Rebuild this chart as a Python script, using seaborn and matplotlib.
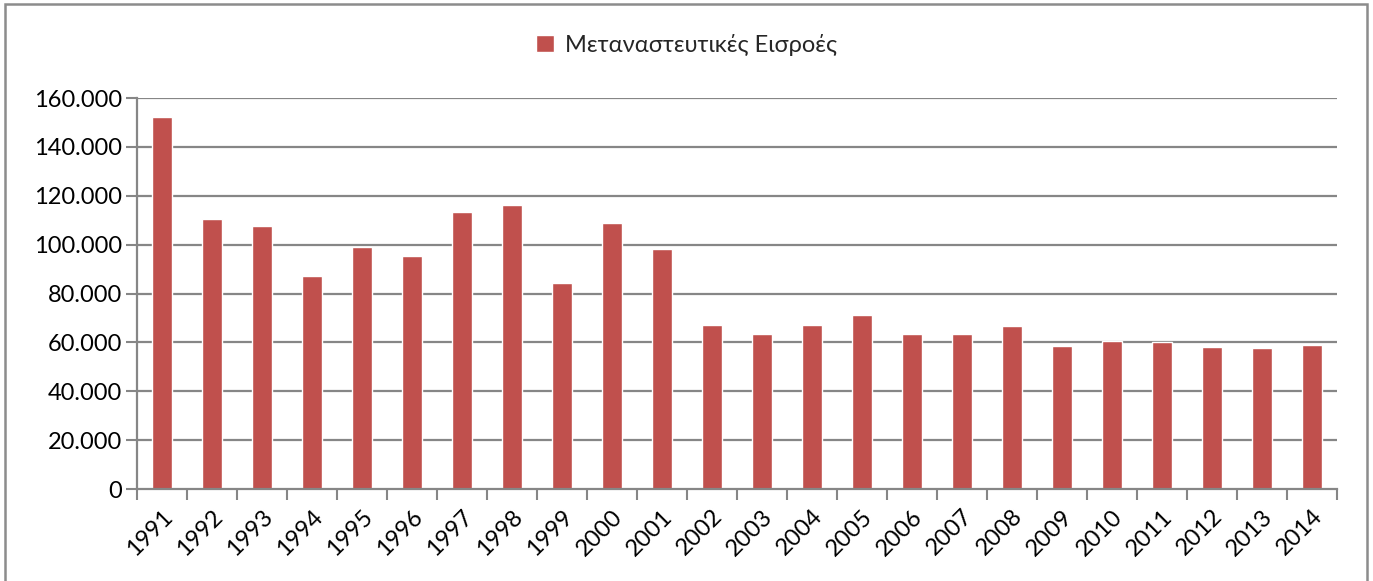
import matplotlib
matplotlib.use("Agg")
import matplotlib.pyplot as plt
from matplotlib.patches import Rectangle
from matplotlib.ticker import FuncFormatter, FixedLocator
import seaborn as sns
import pandas as pd

# Annual immigration inflows
years = [str(y) for y in range(1991, 2015)]
inflows = [152200, 110500, 107600, 87000, 99100, 95300, 113200, 116200,
           84500, 109000, 98400, 67200, 63300, 67000, 71200, 63300,
           63300, 66600, 58600, 60600, 60000, 58200, 57800, 58900]
series_name = "Μεταναστευτικές Εισροές"
y_ticks = [0, 20000, 40000, 60000, 80000, 100000, 120000, 140000, 160000]

BAR = "#C0504D"
GRID = "#868686"
FS = 17

sns.set_theme(style="white")
plt.rcParams["font.family"] = ["Lato", "DejaVu Sans"]

df = pd.DataFrame({"year": years, "value": inflows})

fig = plt.figure(figsize=(13.73, 5.81), dpi=100)
ax = fig.add_axes([0.0998, 0.1583, 0.9736 - 0.0998, 0.8313 - 0.1583])

sns.barplot(data=df, x="year", y="value", color=BAR, width=0.4,
            saturation=1, ax=ax, label=series_name, zorder=3)

ax.set_ylim(0, 160000)
ax.set_xlim(-0.5, len(years) - 0.5)
ax.set_xlabel("")
ax.set_ylabel("")

ax.yaxis.set_major_locator(FixedLocator(y_ticks))
ax.yaxis.set_major_formatter(FuncFormatter(lambda v, p: f"{int(v):,}".replace(",", ".")))
for yv in y_ticks[1:]:
    ax.axhline(yv, color=GRID, lw=1.6, zorder=1)

# category-boundary tick marks on the x axis
ax.set_xticks(range(len(years)))
ax.set_xticklabels(years, rotation=45, ha="right", rotation_mode="anchor")
ax.set_xticks([i - 0.5 for i in range(len(years) + 1)], minor=True)
ax.tick_params(axis="x", which="major", length=0, pad=12, labelsize=FS, colors="black")
ax.tick_params(axis="x", which="minor", length=8, width=1.5, color=GRID, direction="out", bottom=True)
ax.tick_params(axis="y", which="major", length=8, width=1.5, color=GRID, direction="out",
               left=True, labelsize=FS, pad=3, labelcolor="black")

for side in ["top", "right"]:
    ax.spines[side].set_visible(False)
for side in ["left", "bottom"]:
    ax.spines[side].set_color(GRID)
    ax.spines[side].set_linewidth(1.6)
    ax.spines[side].set_zorder(4)

handles, labels = ax.get_legend_handles_labels()
if ax.get_legend():
    ax.get_legend().remove()
fig.legend(handles, labels, loc="center", bbox_to_anchor=(0.5, 1 - 45 / 581),
           frameon=False, fontsize=FS, handlelength=0.75, handleheight=0.75,
           handletextpad=0.45, borderaxespad=0)

# chart frame
fig.patches.append(Rectangle((5 / 1373, -0.01), 1362 / 1373, 1 - 4 / 581 + 0.01,
                             transform=fig.transFigure, fill=False,
                             edgecolor="#8C8C8C", lw=1.8, zorder=0))

fig.savefig("out.png", dpi=100, facecolor="white")
